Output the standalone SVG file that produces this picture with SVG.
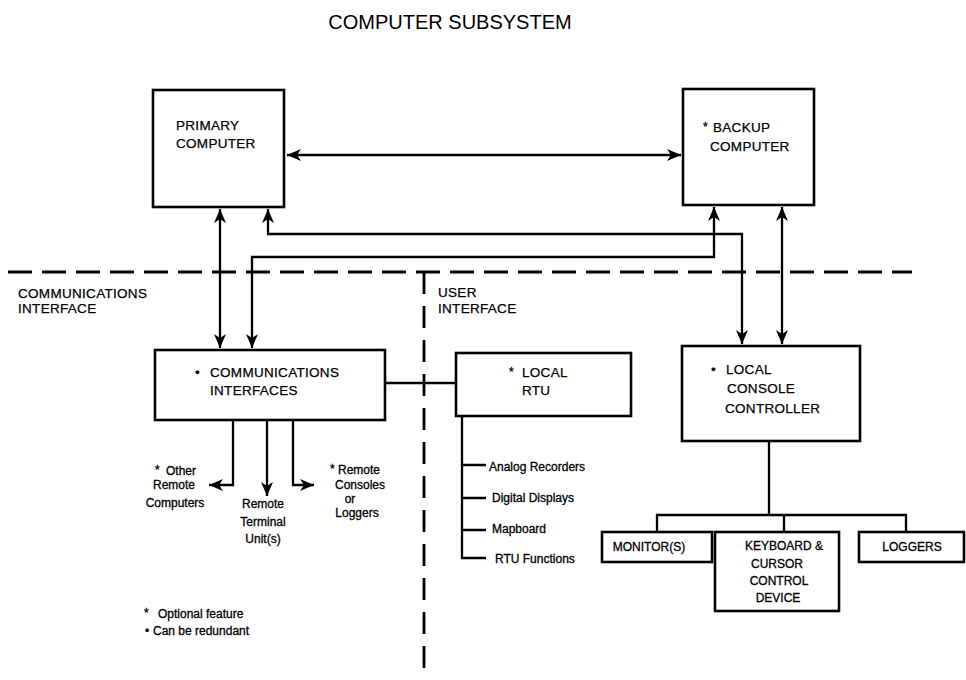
<svg xmlns="http://www.w3.org/2000/svg" width="966" height="680" viewBox="0 0 966 680">
<style>
text{font-family:"Liberation Sans",Arial,sans-serif;fill:#000}
.t{font-size:20px}
.b{font-size:13.5px;letter-spacing:0.3px;stroke:#000;stroke-width:0.25}
.s{font-size:12px;stroke:#000;stroke-width:0.3}
.box{fill:#fff;stroke:#000;stroke-width:2.6}
.c{fill:none;stroke:#000;stroke-width:2.3}
.a{fill:none;stroke:#000;stroke-width:2.3;marker-end:url(#ah)}
.aa{fill:none;stroke:#000;stroke-width:2.3;marker-start:url(#ah);marker-end:url(#ah)}
.d{fill:none;stroke:#000;stroke-width:2.8}
</style>
<defs>
<marker id="ah" markerUnits="userSpaceOnUse" markerWidth="16" markerHeight="16" viewBox="0 0 16 16" refX="15" refY="8" orient="auto-start-reverse">
<path d="M1,2 L15,8 L1,14 L5,8 z" fill="#000"/>
</marker>
</defs>
<rect width="966" height="680" fill="#fff"/>
<text class="t" x="450" y="29" text-anchor="middle">COMPUTER SUBSYSTEM</text>

<g id="dividers">
<line class="d" x1="8" y1="272" x2="912" y2="272" stroke-dasharray="24 10"/>
<line class="d" x1="424" y1="272" x2="424" y2="680" stroke-dasharray="22 12"/>
<text class="b" x="18" y="298">COMMUNICATIONS</text>
<text class="b" x="18" y="313">INTERFACE</text>
<text class="b" x="438" y="297">USER</text>
<text class="b" x="438" y="313">INTERFACE</text>
</g>

<g id="connectors">
<line class="aa" x1="287" y1="155" x2="681" y2="155"/>
<line class="aa" x1="220" y1="209" x2="220" y2="348"/>
<path class="aa" d="M268,209 L268,234 L742,234 L742,344"/>
<path class="aa" d="M714,207 L714,257 L252,257 L252,348"/>
<line class="aa" x1="782" y1="207" x2="782" y2="344"/>
<line class="c" x1="386" y1="383" x2="455" y2="383"/>
<path class="a" d="M233,421 L233,485 L209,485"/>
<line class="a" x1="267" y1="421" x2="267" y2="496"/>
<path class="a" d="M293,421 L293,485 L314,485"/>
<path class="c" d="M462,417 L462,558 L486,558 M462,465 L486,465 M462,498 L486,498 M462,530 L486,530"/>
<path class="c" d="M769,442 L769,515 M657,532 L657,515 L906,515 L906,532 M784,515 L784,532"/>
</g>

<g id="primary">
<rect class="box" x="153" y="90" width="131" height="117"/>
<text class="b" x="176" y="130">PRIMARY</text>
<text class="b" x="176" y="148">COMPUTER</text>
</g>

<g id="backup">
<rect class="box" x="683" y="89" width="131" height="116"/>
<text class="s" x="703" y="131">*</text>
<text class="b" x="713" y="132">BACKUP</text>
<text class="b" x="710" y="151">COMPUTER</text>
</g>

<g id="comms">
<rect class="box" x="155" y="350" width="230" height="70"/>
<text class="b" x="195" y="377">•</text>
<text class="b" x="210" y="377">COMMUNICATIONS</text>
<text class="b" x="210" y="395">INTERFACES</text>
</g>

<g id="rtu">
<rect class="box" x="456" y="353" width="175" height="63"/>
<text class="s" x="509" y="376">*</text>
<text class="b" x="522" y="377">LOCAL</text>
<text class="b" x="522" y="395">RTU</text>
</g>

<g id="console">
<rect class="box" x="682" y="346" width="178" height="95"/>
<text class="b" x="711" y="374">•</text>
<text class="b" x="726" y="374">LOCAL</text>
<text class="b" x="727" y="393">CONSOLE</text>
<text class="b" x="725" y="413">CONTROLLER</text>
</g>

<g id="monitor">
<rect class="box" x="602" y="532" width="110" height="30"/>
<text class="s" x="649" y="551" text-anchor="middle">MONITOR(S)</text>
</g>

<g id="keyboard">
<rect class="box" x="715" y="532" width="124" height="79"/>
<text class="s" x="784" y="550" text-anchor="middle">KEYBOARD &amp;</text>
<text class="s" x="777" y="568" text-anchor="middle">CURSOR</text>
<text class="s" x="779" y="585" text-anchor="middle">CONTROL</text>
<text class="s" x="778" y="602" text-anchor="middle">DEVICE</text>
</g>

<g id="loggers">
<rect class="box" x="859" y="532" width="105" height="30"/>
<text class="s" x="912" y="551" text-anchor="middle">LOGGERS</text>
</g>

<g id="comm-labels">
<text class="s" x="155" y="474">*</text>
<text class="s" x="166" y="475">Other</text>
<text class="s" x="174" y="489" text-anchor="middle">Remote</text>
<text class="s" x="175" y="507" text-anchor="middle">Computers</text>
<text class="s" x="263" y="508" text-anchor="middle">Remote</text>
<text class="s" x="263" y="526" text-anchor="middle">Terminal</text>
<text class="s" x="263" y="543" text-anchor="middle">Unit(s)</text>
<text class="s" x="330" y="473">*</text>
<text class="s" x="338" y="474">Remote</text>
<text class="s" x="360" y="489" text-anchor="middle">Consoles</text>
<text class="s" x="350" y="503" text-anchor="middle">or</text>
<text class="s" x="357" y="517" text-anchor="middle">Loggers</text>
</g>

<g id="rtu-functions">
<text class="s" x="489" y="471">Analog Recorders</text>
<text class="s" x="492" y="502">Digital Displays</text>
<text class="s" x="492" y="533">Mapboard</text>
<text class="s" x="495" y="563">RTU Functions</text>
</g>

<g id="legend">
<text class="s" x="144" y="617">*</text>
<text class="s" x="158" y="618">Optional feature</text>
<text class="s" x="145" y="635">•</text>
<text class="s" x="153" y="635">Can be redundant</text>
</g>
</svg>
